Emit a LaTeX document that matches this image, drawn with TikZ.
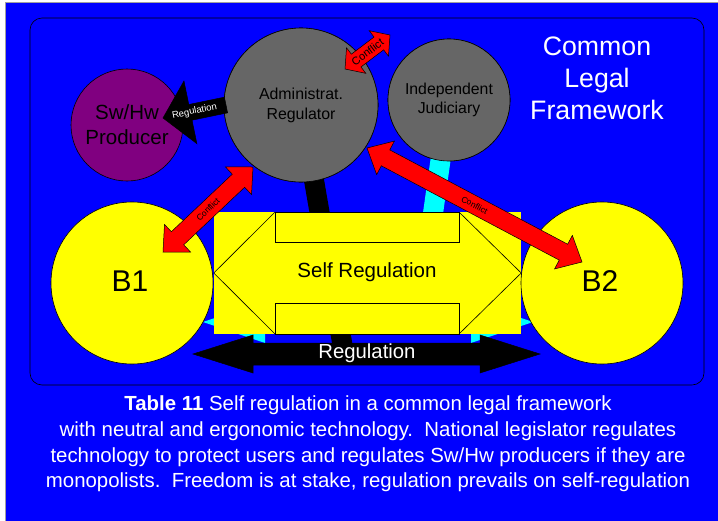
\documentclass[tikz,border=0pt]{standalone}
\usepackage{fontspec}
\setmainfont{Liberation Sans}
\usetikzlibrary{calc}
\definecolor{bgblue}{RGB}{0,0,255}
\definecolor{nodegray}{RGB}{102,102,102}
\definecolor{prodpurple}{RGB}{128,0,128}
\definecolor{yel}{RGB}{255,255,0}
\definecolor{cyn}{RGB}{0,255,255}
\definecolor{framegray}{RGB}{160,160,160}
\newcommand{\fs}[2]{\fontsize{#1}{#2}\selectfont}
% double block arrow: style, end P, end Q, shaft half, head half, head length
\newcommand{\dblarrow}[6]{%
  \coordinate (da1) at ($(#2)!#6!(#3)$);
  \coordinate (da2) at ($(#3)!#6!(#2)$);
  \filldraw[#1] (#2) -- ($(da1)!#5!90:(#3)$) -- ($(da1)!#4!90:(#3)$)
    -- ($(da2)!#4!-90:(#2)$) -- ($(da2)!#5!-90:(#2)$) -- (#3)
    -- ($(da2)!#5!90:(#2)$) -- ($(da2)!#4!90:(#2)$)
    -- ($(da1)!#4!-90:(#3)$) -- ($(da1)!#5!-90:(#3)$) -- cycle;}
% single block arrow: style, tail, tip, shaft half, head half, head length
\newcommand{\sglarrow}[6]{%
  \coordinate (sa1) at ($(#3)!#6!(#2)$);
  \filldraw[#1] ($(#2)!#4!90:(#3)$) -- ($(sa1)!#4!-90:(#2)$) -- ($(sa1)!#5!-90:(#2)$)
    -- (#3) -- ($(sa1)!#5!90:(#2)$) -- ($(sa1)!#4!90:(#2)$)
    -- ($(#2)!#4!-90:(#3)$) -- cycle;}
\tikzset{
  circ/.style={circle, draw=black, line width=0.6pt, inner sep=0pt, align=center},
  redarrow/.style={fill=red, draw=black, line width=0.5pt},
  blackarrow/.style={fill=black, draw=black, line width=0.5pt},
  cyanarrow/.style={fill=cyn, draw=none},
  arrowtext/.style={font=\fs{8.5}{10}, text=black, inner sep=0pt},
}
\begin{document}
\begin{tikzpicture}[x=1pt, y=-1pt]
\useasboundingbox (0,0) rectangle (718,520);
\fill[white] (0,0) rectangle (718,520);
\filldraw[fill=bgblue, draw=framegray, line width=1pt] (5.5,2.5) rectangle (720,522);
% inner framework
\filldraw[fill=bgblue, draw=black, line width=0.6pt, rounded corners=12pt] (30,18) rectangle (704,385);
% node placements
\coordinate (blackend) at (343,348);
\coordinate (cyanend) at (425,270);
\node[circ, fill=nodegray, minimum size=154pt] (admin) at (301,105) {};
\node[circ, fill=nodegray, minimum size=122pt] (jud) at (449,100) {};
% bars behind circles
\draw[line width=20pt, black] (admin.center) -- (blackend);
\draw[line width=20pt, cyn] (jud.center) -- (cyanend);
% cyan double arrow behind the box
\coordinate (cyl) at (203,322);
\coordinate (cyr) at (533,322);
\dblarrow{cyanarrow}{cyl}{cyr}{10pt}{21pt}{62pt}
% Regulation double arrow
\coordinate (regl) at (193,354);
\coordinate (regr) at (540,354);
\dblarrow{blackarrow}{regl}{regr}{11pt}{19pt}{60pt}
\node[font=\fs{20.3}{24}, text=white] (regtext) at (367,353) {Regulation};
% Self regulation box
\node[fill=yel, minimum width=307pt, minimum height=122pt, inner sep=0pt] (self) at (367.5,273) {};
\draw[line width=0.6pt] (self.west) -- (275,212) (self.west) -- (275,334);
\draw[line width=0.6pt] (275,212) rectangle (459,242) (275,303) rectangle (459,334);
\draw[line width=0.6pt] (459,212) -- (self.east) -- (459,334);
\node[font=\fs{20.5}{24}] (selftext) at (367,272) {Self Regulation};
% circles
\node[circ, fill=nodegray, minimum size=154pt, font=\fs{15.9}{20}] (admin) at (301,105) {Administrat.\\Regulator};
\node[circ, fill=nodegray, minimum size=122pt, font=\fs{15.8}{19}] (jud) at (449,100) {Independent\\Judiciary};
\node[circ, fill=prodpurple, minimum size=112pt, font=\fs{20.5}{25}] (prod) at (127,125) {Sw/Hw\\Producer};
\node[circ, fill=yel, minimum size=162pt] (b1) at (132,283) {};
\node[circ, fill=yel, minimum size=162pt] (b2) at (602,283) {};
\node[font=\fs{30}{34}] at (130,281) {B1};
\node[font=\fs{30}{34}] at (600,281) {B2};
% Common Legal Framework
\node[font=\fs{26.7}{32}, text=white, align=center] (clf) at (597,78) {Common\\Legal\\Framework};
% Regulation arrow admin -> producer
\coordinate (rtail) at (226,105);
\coordinate (rtip) at (163,118);
\sglarrow{blackarrow}{rtail}{rtip}{8pt}{32pt}{28pt}
\path (rtail) -- (rtip) node[midway, sloped, font=\fs{9.5}{11}, text=white, inner sep=0pt] {Regulation};
% Conflict arrows
\coordinate (c1a) at (253,167);
\coordinate (c1b) at (163,252);
\dblarrow{redarrow}{c1a}{c1b}{9pt}{19pt}{20pt}
\path (c1a) -- (c1b) node[midway, sloped, arrowtext] {Conflict};
\coordinate (c2a) at (367,148);
\coordinate (c2b) at (582,262);
\dblarrow{redarrow}{c2a}{c2b}{9pt}{19pt}{21pt}
\path (c2a) -- (c2b) node[midway, sloped, arrowtext] {Conflict};
\coordinate (c3a) at (345,69);
\coordinate (c3b) at (390,35);
\dblarrow{redarrow}{c3a}{c3b}{8pt}{16pt}{14pt}
\path (c3a) -- (c3b) node[midway, sloped, arrowtext, font=\fs{11}{12}] {Conflict};
% caption
\node[font=\fs{20.4}{25.7}, text=white, align=center] (caption) at (368,444)
  {\textbf{Table 11} Self regulation in a common legal framework\\
   with neutral and ergonomic technology.\ \ National legislator regulates\\
   technology to protect users and regulates Sw/Hw producers if they are\\
   monopolists.\ \ Freedom is at stake, regulation prevails on self-regulation};
\end{tikzpicture}
\end{document}
